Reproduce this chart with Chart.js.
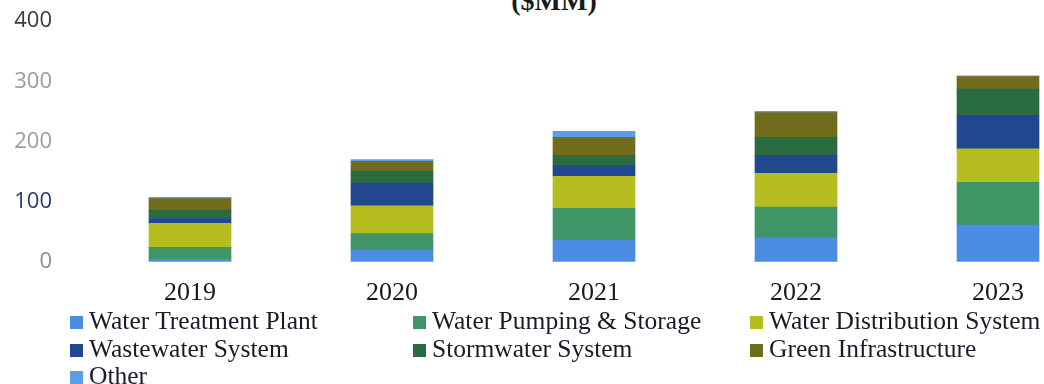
<!DOCTYPE html>
<html>
<head>
<meta charset="utf-8">
<script src="https://cdn.jsdelivr.net/npm/chart.js@4/dist/chart.umd.min.js"></script>
<style>
  html, body { margin: 0; padding: 0; background: #ffffff; width: 1044px; height: 384px; overflow: hidden; }
  #title { position: absolute; left: 4px; top: -13px; width: 1100px; text-align: center;
           font: bold 28px "Liberation Serif", "Times New Roman", serif; line-height: 28px; color: #1a1a1a; }
  #wrap { position: absolute; left: 0; top: -29px; width: 1100px; height: 384px; }
  #legend { position: absolute; left: 0; top: 0; width: 1100px; height: 384px; pointer-events: none; }
  .item { position: absolute; white-space: nowrap; font: 25.5px "Liberation Serif", "Times New Roman", serif;
          color: #1a1a2a; line-height: 28px; }
  .box { display: inline-block; width: 13px; height: 13px; margin-right: 6px; vertical-align: 0px; }
</style>
</head>
<body>
<div id="title">($MM)</div>
<div id="wrap"><canvas id="c" width="1100" height="384"></canvas></div>
<div id="legend"></div>
<script>
// Capital spending by category, $MM
const years = ["2019", "2020", "2021", "2022", "2023"];

const waterTreatmentPlant     = [4, 20, 36, 40, 61];
const waterPumpingStorage     = [20, 27, 53, 51, 71];
const waterDistributionSystem = [40, 46, 53, 56, 56];
const wastewaterSystem        = [8, 38, 18, 30, 55];
const stormwaterSystem        = [14, 20, 17, 30, 44];
const greenInfrastructure     = [19, 16, 30, 41, 21];
const other                   = [2, 3, 10, 2, 1];

const yTickValues = [0, 100, 200, 300, 400];
const yTickColors = ["#8c8c8c", "#2c3a6a", "#9c9c9c", "#9a98aa", "#3a3a3a"];

const seriesNames = [
  "Water Treatment Plant", "Water Pumping & Storage", "Water Distribution System",
  "Wastewater System", "Stormwater System", "Green Infrastructure", "Other"
];
const seriesValues = [
  waterTreatmentPlant, waterPumpingStorage, waterDistributionSystem,
  wastewaterSystem, stormwaterSystem, greenInfrastructure, other
];
const seriesColors = ["#4b8de2", "#3f9566", "#b6bd1f", "#21488e", "#2b6b42", "#6f6d1c", "#5a9ee6"];

const datasets = seriesNames.map((name, i) => ({
  label: name,
  data: seriesValues[i],
  backgroundColor: seriesColors[i],
  borderWidth: 0,
  barThickness: 82,
  stack: "s"
}));

const chart = new Chart(document.getElementById("c"), {
  type: "bar",
  data: { labels: years, datasets },
  options: {
    responsive: false,
    animation: false,
    layout: { padding: { top: 0, right: 1, bottom: 30, left: 0 } },
    plugins: { legend: { display: false }, tooltip: { enabled: false } },
    scales: {
      x: {
        stacked: true,
        grid: { display: false, drawTicks: false },
        border: { display: false },
        ticks: { color: "#1a1a1a", padding: 16, font: { family: "'Liberation Serif', serif", size: 26 } }
      },
      y: {
        stacked: true,
        min: 0, max: 400,
        afterBuildTicks: s => { s.ticks = yTickValues.map(v => ({ value: v })); },
        afterFit: s => { s.width = 89; },
        grid: { display: false, drawTicks: false },
        border: { display: false },
        ticks: {
          padding: 37,
          color: ctx => yTickColors[ctx.index],
          font: { family: "'Open Sans', sans-serif", size: 22 }
        }
      }
    }
  }
});

// Legend laid out in three columns from the chart's datasets
const legend = document.getElementById("legend");
const colLeft = [70, 413, 750];
const rowTop = 307;
const rowStep = 27.5;
chart.data.datasets.forEach((ds, i) => {
  const el = document.createElement("div");
  el.className = "item";
  el.style.left = colLeft[i % 3] + "px";
  el.style.top = (rowTop + Math.floor(i / 3) * rowStep) + "px";
  const box = document.createElement("span");
  box.className = "box";
  box.style.background = ds.backgroundColor;
  el.appendChild(box);
  el.appendChild(document.createTextNode(ds.label));
  legend.appendChild(el);
});
</script>
</body>
</html>
